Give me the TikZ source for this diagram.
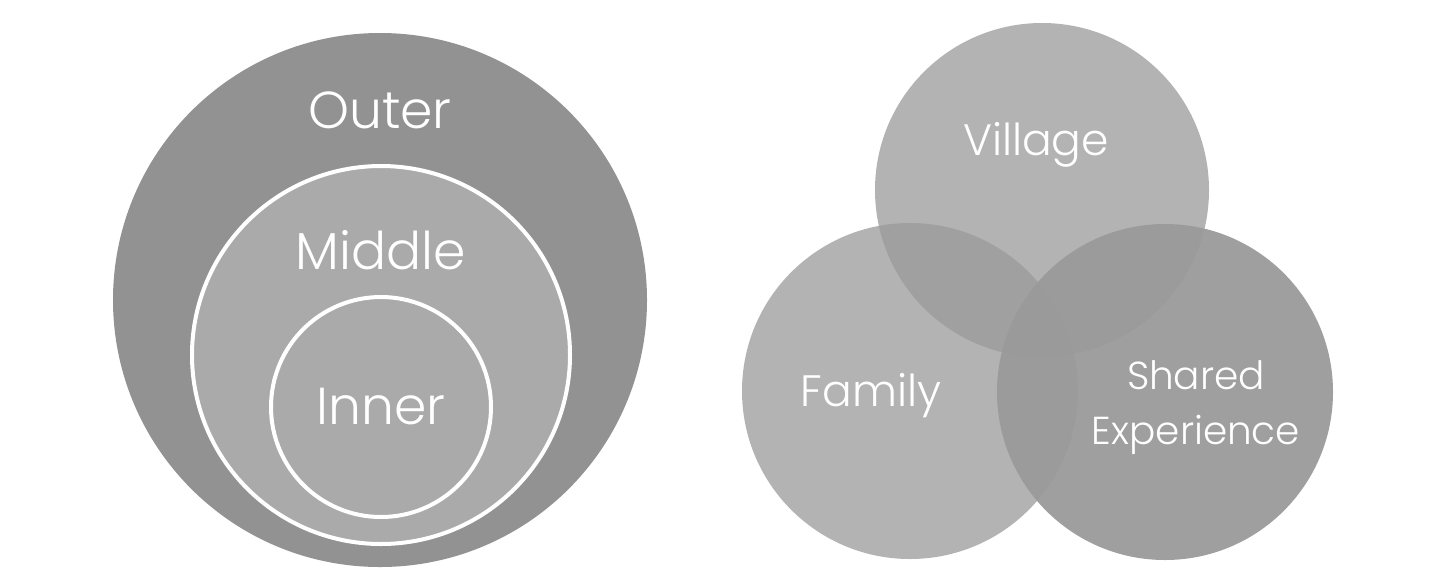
\documentclass[tikz,border=0pt]{standalone}
\usepackage{fontspec}
\setmainfont{Poppins}[UprightFont=* Light]
\definecolor{outergray}{HTML}{929292}
\definecolor{ringgray}{HTML}{AAAAAA}
\definecolor{venngray}{HTML}{9A9A9A}
\tikzset{
  label/.style={text=white, font=\fontsize{52}{58}\selectfont, inner sep=0pt},
  ring/.style={fill=ringgray, draw=white, line width=4pt},
  venn/.style={fill=venngray, fill opacity=0.75}
}

\begin{document}
\begin{tikzpicture}[x=1pt, y=-1pt]
  \useasboundingbox[fill=white] (0,0) rectangle (1456,582);

  % nested circles
  \fill[outergray] (380,300) circle[radius=267pt];
  \draw[ring] (381,355) circle[radius=189pt];
  \draw[ring] (381,407) circle[radius=110pt];

  \node[label] (outer)  at (380,110) {Outer};
  \node[label] (middle) at (381,250) {Middle};
  \node[label] (inner)  at (381,407) {Inner};

  % venn diagram
  \fill[venn] (910,391) circle[radius=168pt];
  \fill[venn] (1042,190) circle[radius=167pt];
  \fill[venngray, fill opacity=0.94] (1165,392) circle[radius=168pt];

  \node[label, font=\fontsize{44}{52}\selectfont] (village) at (1036,145) {Village};
  \node[label, font=\fontsize{44}{52}\selectfont] (family)  at (871,396) {Family};
  \node[label, font=\fontsize{39}{55}\selectfont, align=center] (shared) at (1196,408) {Shared\\Experience};
\end{tikzpicture}
\end{document}
